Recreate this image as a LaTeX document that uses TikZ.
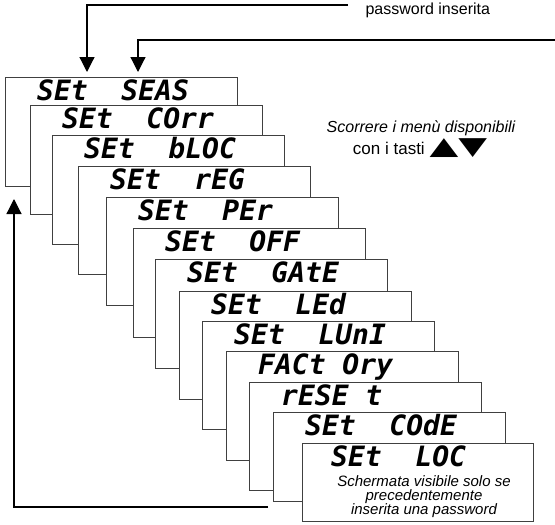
\documentclass[tikz,border=0pt]{standalone}
\usepackage{fontspec}
\setmainfont{Liberation Sans}
\newfontfamily\lcdfont{DejaVu Sans Mono}
\newfontfamily\symfont{DejaVu Sans}
\usetikzlibrary{arrows.meta}

\tikzset{
  screen/.style={draw=black!75, line width=0.9pt, fill=white, anchor=north west,
    inner sep=0pt, minimum width=232pt, minimum height=109pt},
  lcd/.style={anchor=base west, inner sep=0pt,
    font=\lcdfont\bfseries\itshape\fontsize{28}{28}\selectfont},
  flow/.style={line width=1.2pt, -{Triangle[length=15pt,width=15pt]}},
}

\begin{document}
\begin{tikzpicture}[x=1pt,y=-1pt]
\useasboundingbox (0,0) rectangle (555,525);
\node[screen] (s1) at (5,77) {};
\node[lcd] (l1) at (37,100) {SEt~~SEAS};
\node[screen] (s2) at (30,105) {};
\node[lcd] (l2) at (62,128) {SEt~~COrr};
\node[screen] (s3) at (52,135) {};
\node[lcd] (l3) at (84,158) {SEt~~bLOC};
\node[screen, minimum height=108pt] (s4) at (78,166) {};
\node[lcd] (l4) at (110,189) {SEt~~rEG};
\node[screen, minimum height=108pt] (s5) at (106,197) {};
\node[lcd] (l5) at (138,220) {SEt~~PEr};
\node[screen] (s6) at (133,228) {};
\node[lcd] (l6) at (165,251) {SEt~~OFF};
\node[screen] (s7) at (155,259) {};
\node[lcd] (l7) at (187,282) {SEt~~GAtE};
\node[screen, minimum height=108pt] (s8) at (179,291) {};
\node[lcd] (l8) at (211,314) {SEt~~LEd};
\node[screen, minimum height=108pt] (s9) at (202,321) {};
\node[lcd] (l9) at (234,344) {SEt~~LUnI};
\node[screen] (s10) at (226,351) {};
\node[lcd] (l10) at (258,374) {FACt~Ory};
\node[screen, minimum height=108pt] (s11) at (249,382) {};
\node[lcd] (l11) at (281,405) {rESE~t};
\node[screen, minimum height=89pt] (s12) at (273,412) {};
\node[lcd] (l12) at (305,435) {SEt~~COdE};
\node[screen, minimum width=231pt, minimum height=78pt] (s13) at (302,443) {};
\node[lcd] (l13) at (331,466) {SEt~~LOC};
\node[anchor=north, align=center, inner sep=0pt, font=\itshape\fontsize{15}{14}\selectfont] (n13) at (424,475)
  {Schermata visibile solo se\\precedentemente\\inserita una password};
\node[anchor=base, font=\itshape\fontsize{16}{19}\selectfont] (h1) at (421,132) {Scorrere i menù disponibili};
\node[anchor=base, font=\fontsize{17}{19}\selectfont] (h2) at (420,154) {con i tasti {\symfont\scalebox{2.2}[1.45]{▲▼}}};
\node[anchor=base west, font=\fontsize{16}{19}\selectfont] (pw) at (362,14) {password inserita};
\coordinate (p1) at (348,5);
\coordinate (e1) at (87,72);
\draw[flow] (p1) -| (e1);
\coordinate (p2) at (555,40);
\coordinate (e2) at (138,72);
\draw[flow] (p2) -| (e2);
\coordinate (b1) at (268,507);
\coordinate (e3) at (14,199);
\draw[flow] (b1) -| (e3);
\end{tikzpicture}
\end{document}
